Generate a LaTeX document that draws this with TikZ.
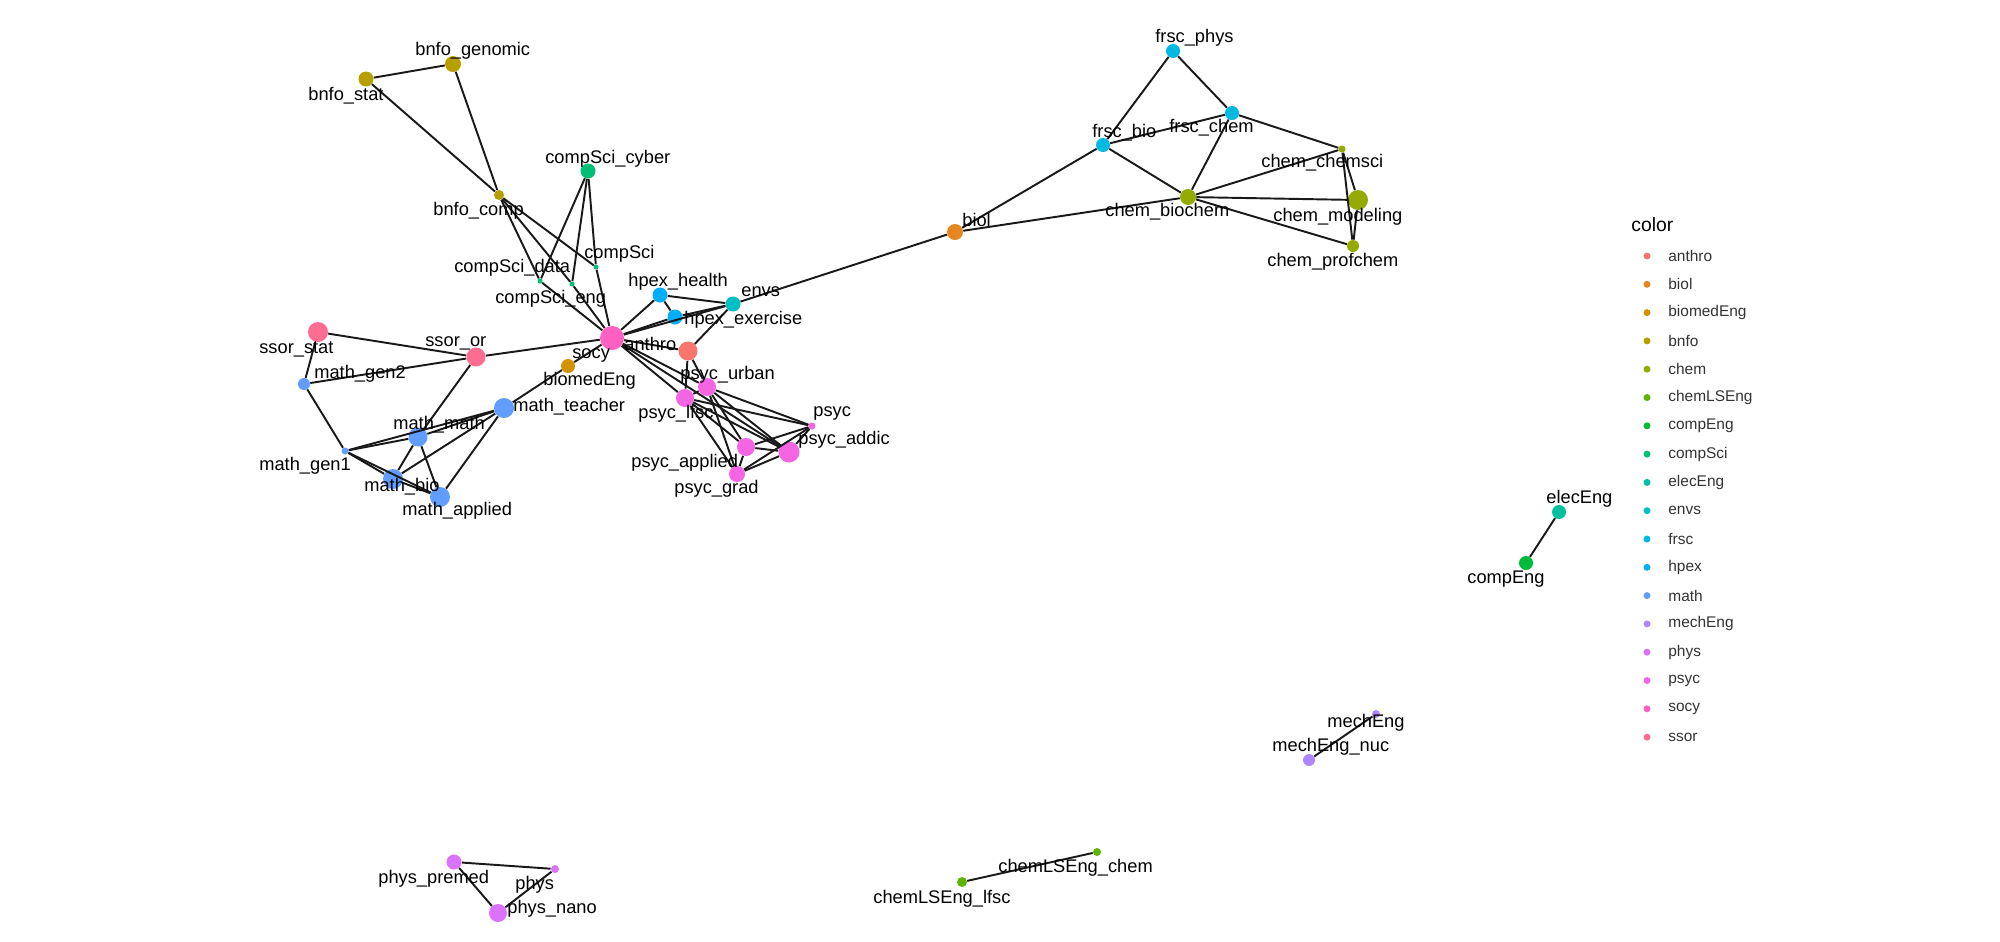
\documentclass[tikz,border=0pt]{standalone}
\usepackage{fontspec}
\setmainfont{Liberation Sans}
\usepackage{tikz}

\definecolor{cAnthro}{HTML}{F8766D}
\definecolor{cBiol}{HTML}{E7851E}
\definecolor{cBiomed}{HTML}{D39200}
\definecolor{cBnfo}{HTML}{B79F00}
\definecolor{cChem}{HTML}{93AA00}
\definecolor{cChemLS}{HTML}{5EB300}
\definecolor{cCompEng}{HTML}{00BA38}
\definecolor{cCompSci}{HTML}{00BF74}
\definecolor{cElec}{HTML}{00C19F}
\definecolor{cEnvs}{HTML}{00BFC4}
\definecolor{cFrsc}{HTML}{00B9E3}
\definecolor{cHpex}{HTML}{00ADFA}
\definecolor{cMath}{HTML}{619CFF}
\definecolor{cMech}{HTML}{AE87FF}
\definecolor{cPhys}{HTML}{DB72FB}
\definecolor{cPsyc}{HTML}{F564E3}
\definecolor{cSocy}{HTML}{FF61C3}
\definecolor{cSsor}{HTML}{FF6C91}

\begin{document}
\begin{tikzpicture}[x=0.02cm,y=-0.02cm]
  \tikzset{vertex/.style = {circle,draw=none,fill=#1,inner sep=0pt}}
  \tikzset{rad/.style = {minimum size=#1*0.04cm}}
  \tikzset{lbl/.style = {anchor=west,inner sep=0pt,font=\fontsize{10.4}{12}\selectfont}}
  \tikzset{key/.style = {anchor=west,inner sep=0pt,text=black!80,font=\fontsize{8.8}{10}\selectfont}}
  \tikzset{link/.style = {line width=1.1pt,black!90}}

\useasboundingbox (0,0) rectangle (2000,941);

% bnfo + compSci
\node[vertex=cBnfo, rad=8] (bnfo-genomic) at (453,64) {};
\node[vertex=cBnfo, rad=7.5] (bnfo-stat) at (366,79) {};
\node[vertex=cBnfo, rad=5] (bnfo-comp) at (499,195) {};
\node[vertex=cCompSci, rad=7.5] (compsci-cyber) at (588,171) {};
\node[vertex=cCompSci, rad=2.5] (compsci-data) at (540,281) {};
\node[vertex=cCompSci, rad=2.5] (compsci-eng) at (572,284) {};
\node[vertex=cCompSci, rad=2.5] (compsci) at (596,267) {};

% centre
\node[vertex=cHpex, rad=7.5] (hpex-health) at (660,295) {};
\node[vertex=cHpex, rad=7.5] (hpex-exercise) at (675,317) {};
\node[vertex=cEnvs, rad=7.5] (envs) at (733,304) {};
\node[vertex=cSocy, rad=12] (socy) at (612,338) {};
\node[vertex=cAnthro, rad=9.5] (anthro) at (688,351) {};
\node[vertex=cBiomed, rad=7] (biomedeng) at (568,366) {};

% ssor + math
\node[vertex=cSsor, rad=10] (ssor-stat) at (318,332) {};
\node[vertex=cSsor, rad=9.5] (ssor-or) at (476,357) {};
\node[vertex=cMath, rad=6] (math-gen2) at (304,384) {};
\node[vertex=cMath, rad=10] (math-teacher) at (504,408) {};
\node[vertex=cMath, rad=9.5] (math-math) at (418,437) {};
\node[vertex=cMath, rad=3.5] (math-gen1) at (345,451) {};
\node[vertex=cMath, rad=10] (math-bio) at (393,479) {};
\node[vertex=cMath, rad=10] (math-applied) at (440,497) {};

% psyc
\node[vertex=cPsyc, rad=9] (psyc-urban) at (707,387) {};
\node[vertex=cPsyc, rad=9] (psyc-lfsc) at (685,398) {};
\node[vertex=cPsyc, rad=3.5] (psyc) at (812,426) {};
\node[vertex=cPsyc, rad=9] (psyc-applied) at (746,447) {};
\node[vertex=cPsyc, rad=10.5] (psyc-addic) at (789,452) {};
\node[vertex=cPsyc, rad=8] (psyc-grad) at (737,474) {};

% biol + frsc + chem
\node[vertex=cBiol, rad=8] (biol) at (955,232) {};
\node[vertex=cFrsc, rad=7] (frsc-phys) at (1173,51) {};
\node[vertex=cFrsc, rad=7] (frsc-bio) at (1103,145) {};
\node[vertex=cFrsc, rad=7] (frsc-chem) at (1232,113) {};
\node[vertex=cChem, rad=3.5] (chem-chemsci) at (1342,149) {};
\node[vertex=cChem, rad=8] (chem-biochem) at (1188,197) {};
\node[vertex=cChem, rad=10] (chem-modeling) at (1358,200) {};
\node[vertex=cChem, rad=6] (chem-profchem) at (1353,246) {};

% small parts
\node[vertex=cElec, rad=7] (eleceng) at (1559,512) {};
\node[vertex=cCompEng, rad=7] (compeng) at (1526,563) {};
\node[vertex=cMech, rad=4] (mecheng) at (1376,714) {};
\node[vertex=cMech, rad=6] (mecheng-nuc) at (1309,760) {};
\node[vertex=cChemLS, rad=4] (chemls-chem) at (1097,852) {};
\node[vertex=cChemLS, rad=5] (chemls-lfsc) at (962,882) {};
\node[vertex=cPhys, rad=7.5] (phys-premed) at (454,862) {};
\node[vertex=cPhys, rad=4] (phys) at (555,869) {};
\node[vertex=cPhys, rad=9] (phys-nano) at (498,913) {};

% edges
\draw[link] (bnfo-stat) -- (bnfo-genomic);
\draw[link] (bnfo-stat) -- (bnfo-comp);
\draw[link] (bnfo-genomic) -- (bnfo-comp);
\draw[link] (bnfo-comp) -- (compsci-data);
\draw[link] (bnfo-comp) -- (compsci-eng);
\draw[link] (bnfo-comp) -- (compsci);
\draw[link] (compsci-cyber) -- (compsci-data);
\draw[link] (compsci-cyber) -- (compsci-eng);
\draw[link] (compsci-cyber) -- (compsci);
\draw[link] (compsci-data) -- (socy);
\draw[link] (compsci-eng) -- (socy);
\draw[link] (compsci) -- (socy);

\draw[link] (socy) -- (hpex-health);
\draw[link] (socy) -- (hpex-exercise);
\draw[link] (socy) -- (envs);
\draw[link] (socy) -- (anthro);
\draw[link] (hpex-health) -- (hpex-exercise);
\draw[link] (hpex-health) -- (envs);
\draw[link] (hpex-exercise) -- (envs);
\draw[link] (envs) -- (anthro);
\draw[link] (envs) -- (biol);

\draw[link] (socy) -- (ssor-or);
\draw[link] (socy) -- (biomedeng);
\draw[link] (biomedeng) -- (math-teacher);
\draw[link] (ssor-stat) -- (ssor-or);
\draw[link] (ssor-stat) -- (math-gen2);
\draw[link] (math-gen2) -- (ssor-or);
\draw[link] (ssor-or) -- (math-math);
\draw[link] (math-gen2) -- (math-gen1);
\draw[link] (math-gen1) -- (math-math);
\draw[link] (math-gen1) -- (math-teacher);
\draw[link] (math-gen1) -- (math-bio);
\draw[link] (math-gen1) -- (math-applied);
\draw[link] (math-math) -- (math-bio);
\draw[link] (math-math) -- (math-applied);
\draw[link] (math-math) -- (math-teacher);
\draw[link] (math-teacher) -- (math-bio);
\draw[link] (math-teacher) -- (math-applied);
\draw[link] (math-bio) -- (math-applied);

\draw[link] (socy) -- (psyc-lfsc);
\draw[link] (socy) -- (psyc-urban);
\draw[link] (socy) -- (psyc-addic);
\draw[link] (anthro) -- (psyc-lfsc);
\draw[link] (anthro) -- (psyc-urban);
\draw[link] (psyc-lfsc) -- (psyc-urban);
\draw[link] (psyc-lfsc) -- (psyc);
\draw[link] (psyc-lfsc) -- (psyc-applied);
\draw[link] (psyc-lfsc) -- (psyc-addic);
\draw[link] (psyc-lfsc) -- (psyc-grad);
\draw[link] (psyc-urban) -- (psyc);
\draw[link] (psyc-urban) -- (psyc-applied);
\draw[link] (psyc-urban) -- (psyc-addic);
\draw[link] (psyc-urban) -- (psyc-grad);
\draw[link] (psyc) -- (psyc-applied);
\draw[link] (psyc) -- (psyc-addic);
\draw[link] (psyc) -- (psyc-grad);
\draw[link] (psyc-applied) -- (psyc-addic);
\draw[link] (psyc-applied) -- (psyc-grad);
\draw[link] (psyc-addic) -- (psyc-grad);

\draw[link] (frsc-phys) -- (frsc-bio);
\draw[link] (frsc-phys) -- (frsc-chem);
\draw[link] (frsc-bio) -- (frsc-chem);
\draw[link] (frsc-bio) -- (chem-biochem);
\draw[link] (frsc-bio) -- (biol);
\draw[link] (frsc-chem) -- (chem-biochem);
\draw[link] (frsc-chem) -- (chem-chemsci);
\draw[link] (biol) -- (chem-biochem);
\draw[link] (chem-biochem) -- (chem-chemsci);
\draw[link] (chem-biochem) -- (chem-modeling);
\draw[link] (chem-biochem) -- (chem-profchem);
\draw[link] (chem-chemsci) -- (chem-modeling);
\draw[link] (chem-chemsci) -- (chem-profchem);
\draw[link] (chem-modeling) -- (chem-profchem);

\draw[link] (eleceng) -- (compeng);
\draw[link] (mecheng) -- (mecheng-nuc);
\draw[link] (chemls-chem) -- (chemls-lfsc);
\draw[link] (phys-premed) -- (phys);
\draw[link] (phys-premed) -- (phys-nano);
\draw[link] (phys) -- (phys-nano);

% labels
\node[lbl] (t-bnfo-genomic) at (415,51) {bnfo\_genomic};
\node[lbl] (t-bnfo-stat) at (308,96) {bnfo\_stat};
\node[lbl] (t-bnfo-comp) at (433,211) {bnfo\_comp};
\node[lbl] (t-compsci-cyber) at (545,159) {compSci\_cyber};
\node[lbl] (t-compsci) at (584,254) {compSci};
\node[lbl] (t-compsci-data) at (454,268) {compSci\_data};
\node[lbl] (t-compsci-eng) at (495,299) {compSci\_eng};
\node[lbl] (t-hpex-health) at (628,282) {hpex\_health};
\node[lbl] (t-envs) at (741,292) {envs};
\node[lbl] (t-hpex-exercise) at (684,320) {hpex\_exercise};
\node[lbl] (t-anthro) at (624,344) {anthro};
\node[lbl] (t-socy) at (572,355) {socy};
\node[lbl] (t-biomedeng) at (543,381) {biomedEng};
\node[lbl] (t-ssor-stat) at (259,349) {ssor\_stat};
\node[lbl] (t-ssor-or) at (425,343) {ssor\_or};
\node[lbl] (t-math-gen2) at (314,374) {math\_gen2};
\node[lbl] (t-math-teacher) at (513,407) {math\_teacher};
\node[lbl] (t-math-math) at (393,425) {math\_math};
\node[lbl] (t-math-gen1) at (259,466) {math\_gen1};
\node[lbl] (t-math-bio) at (364,487) {math\_bio};
\node[lbl] (t-math-applied) at (402,511) {math\_applied};
\node[lbl] (t-psyc-urban) at (680,375) {psyc\_urban};
\node[lbl] (t-psyc-lfsc) at (638,414) {psyc\_lfsc};
\node[lbl] (t-psyc) at (813,413) {psyc};
\node[lbl] (t-psyc-addic) at (798,440) {psyc\_addic};
\node[lbl] (t-psyc-applied) at (631,463) {psyc\_applied};
\node[lbl] (t-psyc-grad) at (674,489) {psyc\_grad};
\node[lbl] (t-biol) at (962,220) {biol};
\node[lbl] (t-frsc-phys) at (1155,38) {frsc\_phys};
\node[lbl] (t-frsc-bio) at (1092,133) {frsc\_bio};
\node[lbl] (t-frsc-chem) at (1169,128) {frsc\_chem};
\node[lbl] (t-chem-chemsci) at (1261,163) {chem\_chemsci};
\node[lbl] (t-chem-biochem) at (1105,212) {chem\_biochem};
\node[lbl] (t-chem-modeling) at (1273,217) {chem\_modeling};
\node[lbl] (t-chem-profchem) at (1267,262) {chem\_profchem};
\node[lbl] (t-eleceng) at (1546,499) {elecEng};
\node[lbl] (t-compeng) at (1467,579) {compEng};
\node[lbl] (t-mecheng) at (1327,723) {mechEng};
\node[lbl] (t-mecheng-nuc) at (1272,747) {mechEng\_nuc};
\node[lbl] (t-chemls-chem) at (998,868) {chemLSEng\_chem};
\node[lbl] (t-chemls-lfsc) at (873,899) {chemLSEng\_lfsc};
\node[lbl] (t-phys-premed) at (378,879) {phys\_premed};
\node[lbl] (t-phys) at (515,885) {phys};
\node[lbl] (t-phys-nano) at (507,909) {phys\_nano};

% legend
\node[anchor=west,inner sep=0pt,font=\fontsize{11}{13}\selectfont] (key-title) at (1631,225) {color};
\foreach \grp/\col [count=\i from 0] in {anthro/cAnthro, biol/cBiol, biomedEng/cBiomed, bnfo/cBnfo, chem/cChem, chemLSEng/cChemLS, compEng/cCompEng, compSci/cCompSci, elecEng/cElec, envs/cEnvs, frsc/cFrsc, hpex/cHpex, math/cMath, mechEng/cMech, phys/cPhys, psyc/cPsyc, socy/cSocy, ssor/cSsor}{
  \node[vertex=\col, rad=3.5] (k-\i) at (1647,{256+28.3*\i}) {};
  \node[key] (kt-\i) at (1668,{256+28.3*\i}) {\grp};
}

\end{tikzpicture}
\end{document}
